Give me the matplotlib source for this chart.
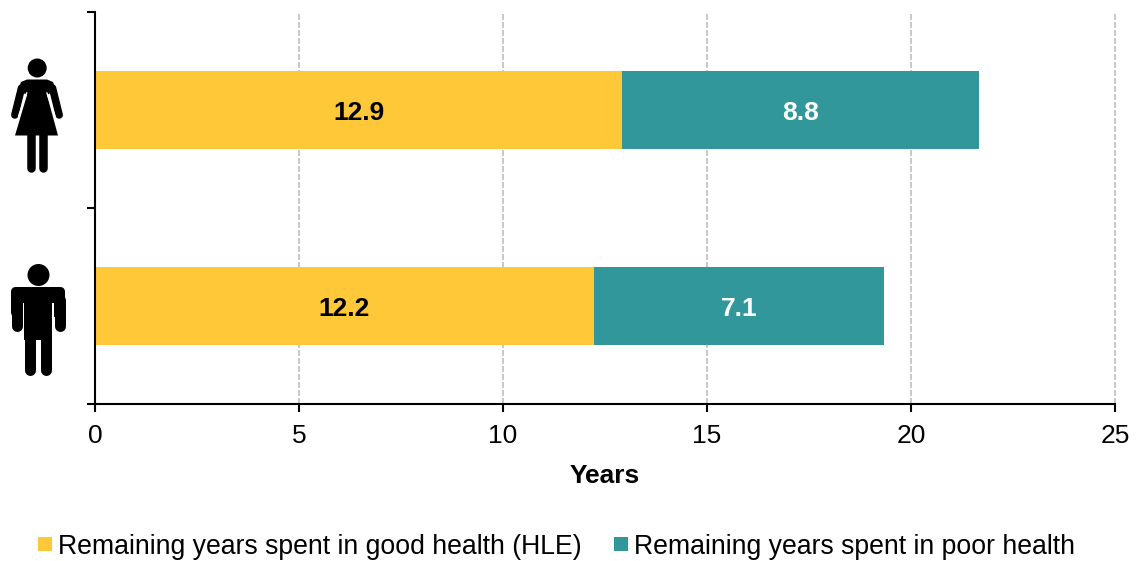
import matplotlib
matplotlib.use("Agg")
import matplotlib.pyplot as plt
from matplotlib.patches import Circle, Polygon, FancyBboxPatch, Rectangle
from matplotlib.lines import Line2D

plt.rcParams['font.family'] = ['Liberation Sans', 'DejaVu Sans']

groups = ['Men', 'Women']
good_health = [12.23, 12.92]
poor_health = [7.11, 8.75]
good_labels = ['12.2', '12.9']
poor_labels = ['7.1', '8.8']
series_names = ['Remaining years spent in good health (HLE)', 'Remaining years spent in poor health']
x_ticks = [0, 5, 10, 15, 20, 25]
x_title = 'Years'

YELLOW = '#FFC839'
TEAL = '#31979B'
W, H = 1137, 561
fig = plt.figure(figsize=(W / 100, H / 100), dpi=100)
ax = fig.add_axes([95 / W, 1 - 404 / H, (1115 - 95) / W, (404 - 12) / H])

pos = list(range(len(groups)))
bars1 = ax.barh(pos, good_health, height=0.402, color=YELLOW, zorder=3)
bars2 = ax.barh(pos, poor_health, left=good_health, height=0.402, color=TEAL, zorder=3)
for r, t in zip(bars1, good_labels):
    ax.text(r.get_x() + r.get_width() / 2, r.get_y() + r.get_height() / 2, t,
            ha='center', va='center_baseline', fontsize=19, fontweight='bold', color='black', zorder=4)
for r, t in zip(bars2, poor_labels):
    ax.text(r.get_x() + r.get_width() / 2, r.get_y() + r.get_height() / 2, t,
            ha='center', va='center_baseline', fontsize=19, fontweight='bold', color='white', zorder=4)

ax.set_xlim(0, 25)
ax.set_ylim(-0.5, 1.5)
ax.set_xticks(x_ticks)
ax.set_yticks([-0.5, 0.5, 1.5])
ax.set_yticklabels([])
ax.tick_params(axis='both', length=5.8, width=1.5, color='black', labelsize=19, pad=8.5)
ax.grid(axis='x', color='#BDBDBD', linestyle=(0, (3.6, 1.2)), linewidth=1.2, zorder=0)
for g in ax.get_xgridlines():
    g.set_clip_on(False)
for s in ['top', 'right']:
    ax.spines[s].set_visible(False)
for s in ['left', 'bottom']:
    ax.spines[s].set_linewidth(1.5)
    ax.spines[s].set_zorder(5)
ax.set_xlabel(x_title, fontsize=19, fontweight='bold', labelpad=11.5)

# Overlay in pixel coordinates for the pictograms and legend swatches
ov = fig.add_axes([0, 0, 1, 1], facecolor='none')
ov.set_xlim(0, W)
ov.set_ylim(H, 0)
ov.axis('off')


def limb(x0, y0, x1, y1, w):
    ov.add_line(Line2D([x0, x1], [y0, y1], color='black', solid_capstyle='round',
                       linewidth=w * 72 / 100))


# Woman
ov.add_patch(Circle((37.2, 68), 9.5, color='black', lw=0))
ov.add_patch(Polygon([(27, 79.5), (47, 79.5), (53, 82), (56, 90), (47, 95), (58, 135.5), (15, 135.5),
                      (27, 95), (18, 90), (21, 82)],
                     closed=True, color='black', lw=0))
limb(21.5, 88, 14.8, 115, 7.5)
limb(52.5, 88, 59.2, 115, 7.5)
limb(31, 134, 31, 167.5, 8.5)
limb(42.7, 134, 42.7, 167.5, 8.5)
ov.add_line(Line2D([26.7, 18.6], [93, 116], color='white', linewidth=1.0))
ov.add_line(Line2D([46.9, 55], [93, 116], color='white', linewidth=1.0))

# Man
ov.add_patch(Circle((38.5, 275), 11, color='black', lw=0))
ov.add_patch(FancyBboxPatch((16, 292), 44, 20, boxstyle='round,pad=5,rounding_size=5', color='black', lw=0))
ov.add_patch(Rectangle((24, 300), 28, 40, color='black', lw=0))
limb(16.5, 300, 16.5, 325.5, 11)
limb(59.5, 300, 59.5, 325.5, 11)
ov.add_patch(Rectangle((22, 303), 2, 30, color='white', lw=0))
ov.add_patch(Rectangle((52, 303), 2, 30, color='white', lw=0))
limb(29.7, 335, 29.7, 370, 11)
limb(46.3, 335, 46.3, 370, 11)

# Legend
ov.add_patch(Rectangle((38, 537), 14, 14, color=YELLOW, lw=0))
ov.add_patch(Rectangle((614, 537), 14, 14, color=TEAL, lw=0))
ov.text(58, 543.5, series_names[0], fontsize=19.2, va='center_baseline', ha='left')
ov.text(634, 543.5, series_names[1], fontsize=19.2, va='center_baseline', ha='left')

fig.savefig('out.png', dpi=100)
